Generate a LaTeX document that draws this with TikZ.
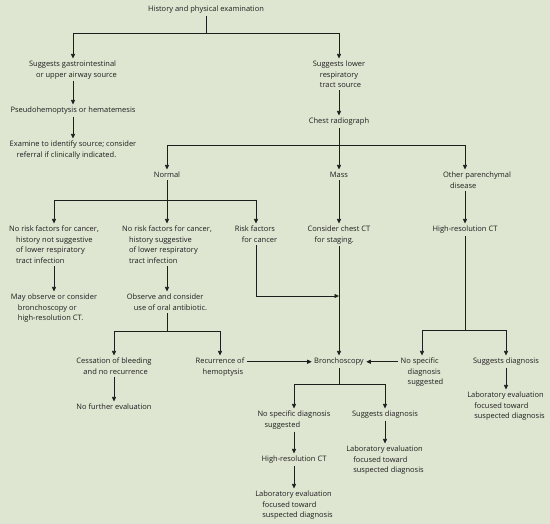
\documentclass[tikz,border=0pt]{standalone}
\usepackage{fontspec}
\setmainfont{Open Sans}
\usetikzlibrary{arrows.meta}
\definecolor{bgcol}{HTML}{DEE5D0}
\definecolor{inkcol}{HTML}{1E1E1E}
\newcommand{\nextln}{\\\hspace*{7pt}}

\begin{document}
\begin{tikzpicture}[x=1pt,y=-1pt]
    % --- DEFINE STYLES ---
    % Style for the text of each step
    \tikzstyle{txt} = [anchor=north, inner sep=0pt, outer sep=2.5pt, align=left, font=\fontsize{7.5}{10.5}\selectfont, text=inkcol]
    % Style for plain connector lines
    \tikzstyle{link} = [draw=inkcol, line width=0.7pt]
    % Style for connectors ending in an arrow head
    \tikzstyle{arr} = [link, -{Triangle[length=4.5pt,width=4pt]}]

    % Background
    \fill[bgcol] (0,0) rectangle (550,524);
    \useasboundingbox (0,0) rectangle (550,524);

    % --- STEPS ---
    \node[txt] (hist) at (206,3.5) {History and physical examination};

    % 1. Gastrointestinal branch
    \node[txt] (gi) at (73,58.5) {Suggests gastrointestinal\nextln or upper airway source};
    \node[txt] (pseudo) at (73,104.5) {Pseudohemoptysis or hematemesis};
    \node[txt] (examine) at (73,138.5) {Examine to identify source; consider\nextln referral if clinically indicated.};

    % 2. Lower respiratory branch
    \node[txt] (lower) at (339,58.5) {Suggests lower\nextln respiratory\nextln tract source};
    \node[txt] (chest) at (339,115.5) {Chest radiograph};
    \node[txt] (normal) at (167,169.5) {Normal};
    \node[txt] (mass) at (339,169.5) {Mass};
    \node[txt] (other) at (477,169.5) {Other parenchymal\nextln disease};

    % 3. Below the radiograph findings
    \node[txt] (nrone) at (54,223.5) {No risk factors for cancer,\nextln history not suggestive\nextln of lower respiratory\nextln tract infection};
    \node[txt] (nrtwo) at (167,223.5) {No risk factors for cancer,\nextln history suggestive\nextln of lower respiratory\nextln tract infection};
    \node[txt] (risk) at (256,223.5) {Risk factors\nextln for cancer};
    \node[txt] (ctstage) at (339,223.5) {Consider chest CT\nextln for staging.};
    \node[txt] (hrct) at (465,223.5) {High-resolution CT};
    \node[txt] (may) at (54,291.5) {May observe or consider\nextln bronchoscopy or\nextln high-resolution CT.};
    \node[txt] (observe) at (167,291.5) {Observe and consider\nextln use of oral antibiotic.};

    % 4. Bronchoscopy row
    \node[txt] (cess) at (114,355.5) {Cessation of bleeding\nextln and no recurrence};
    \node[txt] (recur) at (220,355.5) {Recurrence of\nextln hemoptysis};
    \node[txt] (bronch) at (339,355.5) {Bronchoscopy};
    \node[txt] (nospecr) at (422,355.5) {No specific\nextln diagnosis\nextln suggested};
    \node[txt] (suggr) at (506,355.5) {Suggests diagnosis};
    \node[txt] (labr) at (506,389.5) {Laboratory evaluation\nextln focused toward\nextln suspected diagnosis};
    \node[txt] (nofurther) at (114,401.5) {No further evaluation};

    % 5. After bronchoscopy
    \node[txt] (nospecb) at (294,408.5) {No specific diagnosis\nextln suggested};
    \node[txt] (suggb) at (385,408.5) {Suggests diagnosis};
    \node[txt] (labb) at (385,443.5) {Laboratory evaluation\nextln focused toward\nextln suspected diagnosis};
    \node[txt] (hrctb) at (294,453.5) {High-resolution CT};
    \node[txt] (labbb) at (294,488.5) {Laboratory evaluation\nextln focused toward\nextln suspected diagnosis};

    % --- FORK POINTS ---
    \coordinate (fhist) at (206,33);
    \coordinate (fchest) at (339,145);
    \coordinate (fnormal) at (167,200);
    \coordinate (frisk) at (339,296);
    \coordinate (fobserve) at (167,331);
    \coordinate (fhrct) at (465,330);
    \coordinate (fbronch) at (339,384);

    % --- CONNECTORS ---
    \draw[link] (hist) -- (fhist);
    \draw[arr] (fhist) -| (gi);
    \draw[arr] (fhist) -| (lower);
    \draw[arr] (gi) -- (pseudo);
    \draw[arr] (pseudo) -- (examine);
    \draw[arr] (lower) -- (chest);

    \draw[link] (chest) -- (fchest);
    \draw[arr] (fchest) -| (normal);
    \draw[arr] (fchest) -- (mass);
    \draw[arr] (fchest) -| (other.north -| hrct);
    \draw[arr] (other.south -| hrct) -- (hrct);

    \draw[link] (normal) -- (fnormal);
    \draw[arr] (fnormal) -| (nrone);
    \draw[arr] (fnormal) -- (nrtwo);
    \draw[arr] (fnormal) -| (risk);
    \draw[arr] (nrone) -- (may);
    \draw[arr] (nrtwo) -- (observe);
    \draw[arr] (mass) -- (ctstage);
    \draw[arr] (risk) |- (frisk);
    \draw[arr] (ctstage) -- (bronch);

    \draw[link] (observe) -- (fobserve);
    \draw[arr] (fobserve) -| (cess);
    \draw[arr] (fobserve) -| (recur);
    \draw[arr] (cess) -- (nofurther);
    \draw[arr] (recur.east |- bronch) -- (bronch);

    \draw[link] (hrct) -- (fhrct);
    \draw[arr] (fhrct) -| (nospecr);
    \draw[arr] (fhrct) -| (suggr);
    \draw[arr] (nospecr.west |- bronch) -- (bronch);
    \draw[arr] (suggr) -- (labr);

    \draw[link] (bronch) -- (fbronch);
    \draw[arr] (fbronch) -| (nospecb);
    \draw[arr] (fbronch) -| (suggb);
    \draw[arr] (nospecb) -- (hrctb);
    \draw[arr] (hrctb) -- (labbb);
    \draw[arr] (suggb) -- (labb);
\end{tikzpicture}
\end{document}
